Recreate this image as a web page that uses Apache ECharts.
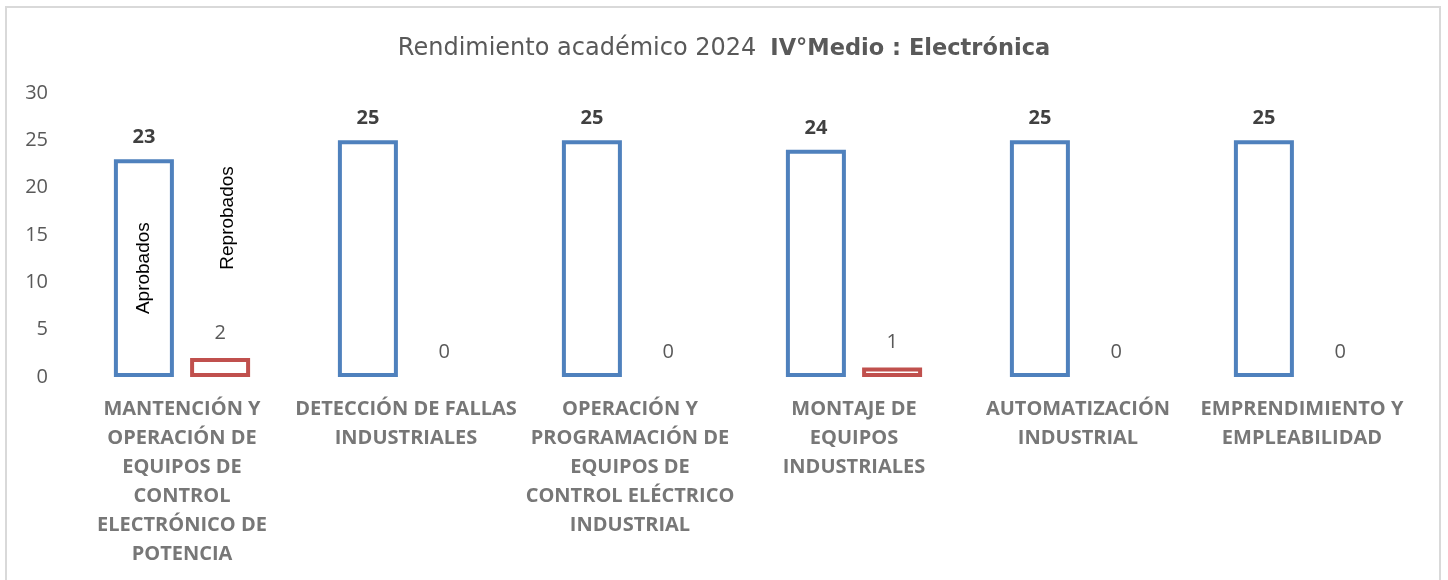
<!DOCTYPE html>
<html>
<head>
<meta charset="utf-8">
<script src="https://cdn.jsdelivr.net/npm/echarts@6/dist/echarts.min.js"></script>
<style>
  html, body { margin: 0; padding: 0; background: #fff; }
  #chart { width: 1448px; height: 580px; }
</style>
</head>
<body>
<div id="chart"></div>
<script>
// categorias (con saltos de linea como en el original)
const categories = [
  "MANTENCIÓN Y\nOPERACIÓN DE\nEQUIPOS DE\nCONTROL\nELECTRÓNICO DE\nPOTENCIA",
  "DETECCIÓN DE FALLAS\nINDUSTRIALES",
  "OPERACIÓN Y\nPROGRAMACIÓN DE\nEQUIPOS DE\nCONTROL ELÉCTRICO\nINDUSTRIAL",
  "MONTAJE DE\nEQUIPOS\nINDUSTRIALES",
  "AUTOMATIZACIÓN\nINDUSTRIAL",
  "EMPRENDIMIENTO Y\nEMPLEABILIDAD"
];
const aprobados = [23, 25, 25, 24, 25, 25];
const reprobados = [2, 0, 0, 1, 0, 0];
const yTicks = [0, 5, 10, 15, 20, 25, 30];

const font = "'Open Sans', 'Noto Sans', sans-serif";
const chart = echarts.init(document.getElementById("chart"));

// las barras en cero no se dibujan (solo queda la etiqueta)
function toItems(arr) {
  return arr.map(v => v === 0 ? { value: v, itemStyle: { borderWidth: 0 } } : v);
}

const option = {
  animation: false,
  textStyle: { fontFamily: font },
  title: {
    left: "center",
    top: 32,
    text: "{r|Rendimiento académico 2024}   {b|IV°Medio : Electrónica}",
    textStyle: {
      rich: {
        r: { fontSize: 24, color: "#595959", fontFamily: "'DejaVu Sans', sans-serif", fontWeight: "normal" },
        b: { fontSize: 22.5, color: "#595959", fontFamily: "'DejaVu Sans', sans-serif", fontWeight: "bold" }
      }
    }
  },
  graphic: [{
    type: "rect",
    shape: { x: 6, y: 7, width: 1434, height: 600 },
    style: { fill: "none", stroke: "#d9d9d9", lineWidth: 2 },
    silent: true
  }],
  grid: { left: 70, right: 34, top: 93, bottom: 203 },
  xAxis: {
    type: "category",
    data: categories,
    axisLine: { show: false },
    axisTick: { show: false },
    axisLabel: {
      interval: 0,
      margin: 18,
      color: "#777777",
      fontSize: 20,
      fontWeight: "bold",
      lineHeight: 29,
      fontFamily: font
    }
  },
  yAxis: {
    type: "value",
    min: yTicks[0],
    max: yTicks[yTicks.length - 1],
    interval: 5,
    splitLine: { show: false },
    axisLine: { show: false },
    axisTick: { show: false },
    axisLabel: { color: "#595959", fontSize: 20, margin: 22, fontFamily: font }
  },
  series: [
    {
      name: "Aprobados",
      type: "bar",
      data: toItems(aprobados),
      barWidth: 60,
      barGap: "27%",
      itemStyle: { color: "#ffffff", borderColor: "#4f81bd", borderWidth: 4 },
      label: {
        show: true,
        position: "top",
        distance: 12,
        color: "#404040",
        fontSize: 20,
        fontWeight: "bold",
        fontFamily: font
      },
      markPoint: {
        symbol: "rect",
        symbolSize: 0,
        silent: true,
        data: [{ coord: [0, aprobados[0] / 2], value: 0 }],
        label: {
          show: true,
          position: "inside",
          formatter: "{a}",
          rotate: 90,
          color: "#000000",
          fontSize: 19,
          fontFamily: "'Liberation Sans', sans-serif"
        }
      }
    },
    {
      name: "Reprobados",
      type: "bar",
      data: toItems(reprobados),
      barWidth: 60,
      itemStyle: { color: "#ffffff", borderColor: "#c0504d", borderWidth: 4 },
      label: {
        show: true,
        position: "top",
        distance: 15,
        color: "#595959",
        fontSize: 20,
        fontFamily: font
      },
      markPoint: {
        symbol: "rect",
        symbolSize: 0,
        silent: true,
        data: [{ coord: [0, 16.8], value: 0, symbolOffset: [8, 0] }],
        label: {
          show: true,
          position: "inside",
          formatter: "{a}",
          rotate: 90,
          color: "#000000",
          fontSize: 19,
          fontFamily: "'Liberation Sans', sans-serif"
        }
      }
    }
  ]
};

chart.setOption(option);
</script>
</body>
</html>
